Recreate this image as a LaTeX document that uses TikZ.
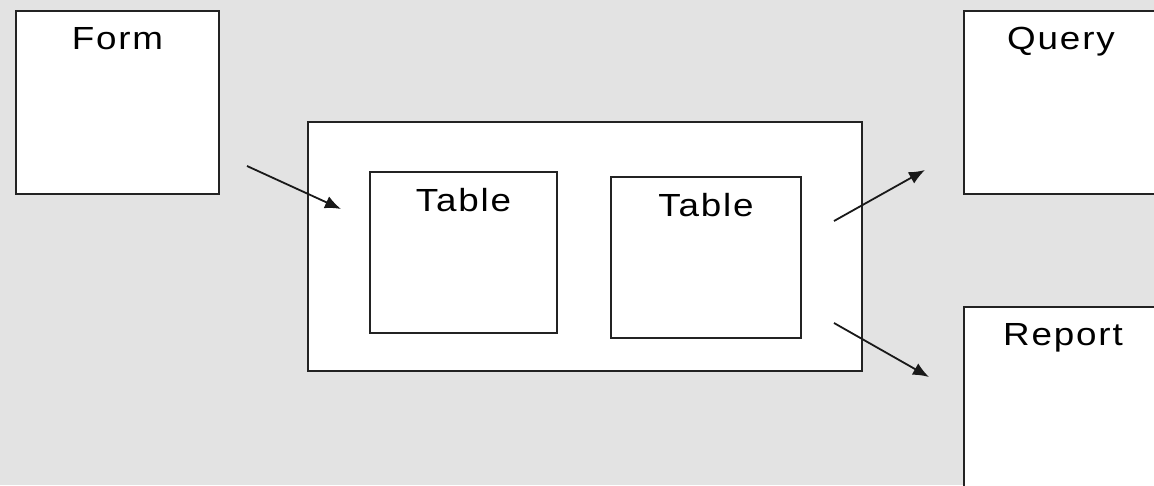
\documentclass[tikz,border=0pt]{standalone}
\usepackage{fontspec}
\setmainfont{Liberation Sans}
\usetikzlibrary{arrows.meta}

\definecolor{bggray}{RGB}{227,227,227}
\definecolor{boxline}{RGB}{35,35,35}

\tikzset{
    objbox/.style={draw=boxline, line width=2.2pt, fill=white, rectangle, inner sep=0pt},
    objtext/.style={anchor=north, inner sep=0pt, yshift=-17pt,
        font=\fontsize{32}{40}\selectfont\addfontfeatures{LetterSpace=5}},
    flow/.style={-{Latex[length=16pt,width=13pt]}, line width=1.8pt, black!90}
}
\newcommand{\wide}[1]{\scalebox{1.15}[1]{#1}}

\begin{document}
\begin{tikzpicture}[x=1pt, y=-1pt]
    % ---------------- canvas ----------------
    \useasboundingbox (0,0) rectangle (1154,485);
    \clip (0,0) rectangle (1154,485);
    \fill[bggray] (0,0) rectangle (1154,485);

    % ---------------- left: form ----------------
    \node[objbox, minimum width=203pt, minimum height=183pt,
          label={[objtext]north:\wide{Form}}] (form) at (117.5,102.5) {};

    % ---------------- center: tables ----------------
    \node[objbox, minimum width=554pt, minimum height=249pt] (db) at (585,246.5) {};
    \node[objbox, minimum width=187pt, minimum height=161pt,
          label={[objtext]north:\wide{Table}}] (tabA) at (463.5,252.5) {};
    \node[objbox, minimum width=190pt, minimum height=161pt,
          label={[objtext]north:\wide{Table}}] (tabB) at (706,257.5) {};

    % ---------------- right: outputs ----------------
    \node[objbox, minimum width=194pt, minimum height=183pt,
          label={[objtext]north:\wide{Query}}] (query) at (1061,102.5) {};
    \node[objbox, minimum width=198pt, minimum height=213pt,
          label={[objtext]north:\wide{Report}}] (report) at (1063,413.5) {};

    % flow arrows
    \coordinate (formout) at (247,166);
    \coordinate (dbin) at (341,209);
    \coordinate (dbout1) at (834,221);
    \coordinate (queryin) at (925,170);
    \coordinate (dbout2) at (834,323);
    \coordinate (reportin) at (929,377);

    \draw[flow] (formout) -- (dbin);
    \draw[flow] (dbout1) -- (queryin);
    \draw[flow] (dbout2) -- (reportin);
\end{tikzpicture}
\end{document}
